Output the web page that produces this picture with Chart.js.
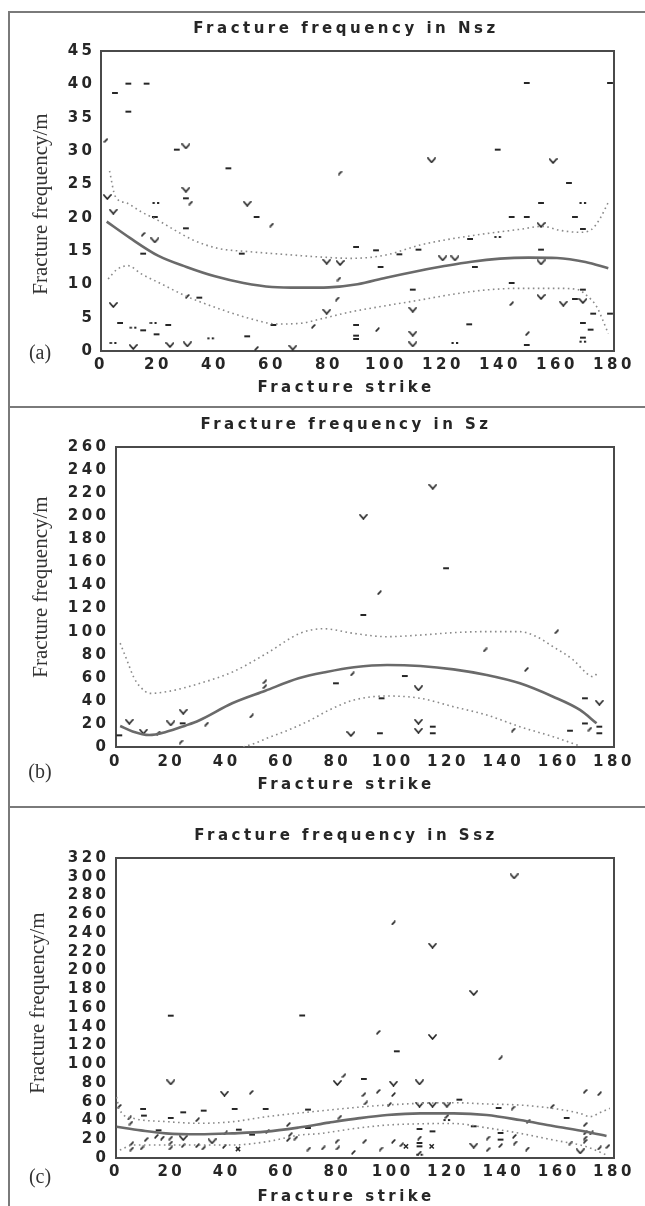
<!DOCTYPE html>
<html>
<head>
<meta charset="utf-8">
<script src="https://cdn.jsdelivr.net/npm/chart.js@4.4.1/dist/chart.umd.min.js"></script>
<style>
  body { margin: 0; background: #fff; }
  #wrap { position: relative; width: 645px; height: 1206px; overflow: hidden; background: #fff; }
  .rule { position: absolute; background: #7a7a7a; }
  canvas { position: absolute; left: 0; }
  .ylab { position: absolute; font-family: "Liberation Serif", "Times New Roman", serif; font-size: 21px; color: #333;
          white-space: nowrap; transform: translate(-50%, -50%) rotate(-90deg); line-height: 1; }
  .tag { position: absolute; font-family: "Liberation Serif", "Times New Roman", serif; font-size: 20px; color: #333;
         transform: translate(-50%, -50%); line-height: 1; }
</style>
</head>
<body>
<div id="wrap">
  <div class="rule" style="left:8px;top:11px;width:637px;height:2px"></div>
  <div class="rule" style="left:8px;top:11px;width:2px;height:1195px"></div>
  <div class="rule" style="left:8px;top:406px;width:637px;height:2px"></div>
  <div class="rule" style="left:8px;top:806px;width:637px;height:2px"></div>

  <canvas id="ca" width="692" height="396" style="top:12px"></canvas>
  <canvas id="cb" width="692" height="399" style="top:408px"></canvas>
  <canvas id="cc" width="692" height="399" style="top:807px"></canvas>

  <div class="ylab" style="left:40px;top:204px">Fracture frequency/m</div>
  <div class="ylab" style="left:40px;top:587px">Fracture frequency/m</div>
  <div class="ylab" style="left:37px;top:1003px">Fracture frequency/m</div>
  <div class="tag" style="left:40px;top:352px">(a)</div>
  <div class="tag" style="left:40px;top:771px">(b)</div>
  <div class="tag" style="left:40px;top:1176px">(c)</div>
</div>
<script>
// ---------- tick labels ----------
const strikeTicks = [0, 20, 40, 60, 80, 100, 120, 140, 160, 180];
const nszTicks = [0, 5, 10, 15, 20, 25, 30, 35, 40, 45];
const szTicks = [0, 20, 40, 60, 80, 100, 120, 140, 160, 180, 200, 220, 240, 260];
const sszTicks = [0, 20, 40, 60, 80, 100, 120, 140, 160, 180, 200, 220, 240, 260, 280, 300, 320];

// ---------- (a) Nsz ----------
const nszFit = [[2,19.4],[10,17.0],[20,14.3],[30,12.6],[40,11.2],[50,10.2],[60,9.6],[70,9.5],[80,9.55],[90,10.0],[100,11.0],[110,11.9],[120,12.7],[130,13.4],[140,13.85],[150,14.0],[160,13.95],[170,13.35],[178,12.4]];
const nszUpper = [[3,27],[5,23.2],[9,22.2],[14,20.9],[20,19.6],[26,18.1],[32,16.7],[41,15.4],[52,14.9],[64,14.5],[77,14.1],[88,13.9],[100,14.4],[112,15.9],[124,16.9],[135,17.6],[147,18.25],[155,18.7],[161,18.1],[168,17.8],[172,18.2],[175,19.8],[178,22.3]];
const nszLower = [[2.5,10.8],[5.5,12.2],[9.5,12.8],[14,11.6],[21,10.1],[30,8.2],[41,6.4],[52,4.9],[62,4.05],[70,4.15],[77,4.8],[88,5.9],[100,6.8],[112,7.65],[124,8.55],[135,9.15],[147,9.4],[159,9.4],[167,9.25],[170.5,8.3],[174,6.6],[176,4.7],[178,2.6]];
const nszDashes = [[4.9,38.7],[9.6,40.1],[16.0,40.1],[9.6,35.9],[6.7,4.2],[14.8,3.1],[19.5,2.5],[23.6,3.9],[14.8,14.6],[18.9,20.1],[26.6,30.2],[29.8,22.9],[29.8,18.4],[34.5,8.0],[44.7,27.4],[49.4,14.6],[51.3,2.2],[54.6,20.1],[60.5,3.9],[149.4,40.2],[178.6,40.2],[139.2,30.2],[164.2,25.2],[154.4,22.2],[144.1,20.1],[149.4,20.1],[166.3,20.1],[169.1,18.3],[129.5,16.8],[89.5,15.6],[96.5,15.1],[104.7,14.5],[111.4,15.2],[98.1,12.6],[131.2,12.6],[154.4,15.2],[144.1,10.2],[169.1,9.2],[109.4,9.2],[166.3,7.8],[172.7,5.6],[89.5,3.9],[129.2,4.0],[169.1,4.2],[171.8,3.2],[89.5,2.3],[89.5,1.8],[149.4,0.9],[169.1,2.0],[178.6,5.6]];
const nszVees = [[2.2,23.1],[4.3,20.9],[4.3,6.9],[11.3,0.6],[18.9,16.6],[24.2,0.9],[29.8,30.7],[29.8,24.2],[30.3,1.0],[51.3,22.1],[67.3,0.5],[116.0,28.6],[154.4,18.9],[79.2,13.4],[83.9,13.2],[119.9,13.9],[124.2,13.9],[154.4,13.3],[154.4,8.1],[162.2,7.1],[169.1,7.5],[79.2,5.9],[109.4,6.2],[109.4,2.6],[109.4,1.0],[158.6,28.5]];
const nszSpecks = [[1.75,31.6],[14.8,17.5],[31.5,22.2],[30.3,8.2],[59.9,18.9],[74.5,3.7],[83.9,26.7],[83.5,10.8],[82.9,7.8],[144.1,7.1],[97.0,3.2],[149.6,2.6],[54.6,0.4]];
const nszPairs = [[4.3,1.2],[11.3,3.5],[18.4,4.2],[19.3,22.2],[38.5,1.9],[169.1,22.2],[139.2,17.1],[124.2,1.2],[169.1,1.4]];

// ---------- (b) Sz ----------
const szFit = [[1.5,18.2],[6,13.5],[12,10.4],[18,13.0],[25,18.5],[30,23],[42,37.9],[54,48.8],[66,59.5],[76,65],[86,69.1],[98,71.1],[110,70.2],[122,67.3],[134,62.4],[146,55.2],[158,43.6],[167.7,32.1],[173.7,20.5]];
const szUpper = [[1.5,90],[4,75],[6.3,61],[8.7,52.3],[12.3,46.5],[18.3,47.9],[30.4,55.2],[42.4,65.3],[54.5,81.2],[66.5,98.5],[74.9,102.5],[85.8,98.5],[97.8,95.6],[109.9,97],[121.9,99.1],[134,100],[146,100],[152,95.6],[158,86.9],[165.3,75.4],[170.1,63.9],[172.5,60.9],[174,64]];
const szLower = [[46,0],[50,3],[55,8],[62,14.4],[70,23],[77,32],[86,40.7],[98,44.2],[110,42.2],[122,34.9],[134,27.7],[146,17.6],[158,8.9],[164,4],[168,0.5]];
const szDashes = [[1.2,10.1],[24.1,20.5],[79.5,55.2],[89.4,114.4],[96,42.2],[95.4,11.9],[104.4,61.5],[114.5,17.6],[114.5,11.9],[119.3,154.9],[164.1,14.1],[169.5,42.2],[169.5,20.4],[174.7,17.6],[174.7,11.9]];
const szVees = [[9.9,13.3],[19.8,20.5],[24.3,30.6],[89.4,199.6],[109.3,50.9],[109.3,21.9],[109.3,14.1],[114.5,225.6],[174.7,38.4],[84.9,11.3],[4.8,21.9]];
const szSpecks = [[15.3,12.1],[23.5,4.3],[32.8,19.9],[49,26.9],[53.8,56.6],[53.8,52.3],[85.4,63.3],[95.2,133.7],[133.4,84.1],[143.6,14.7],[148.4,67.3],[159.3,99.9],[171.3,15.5]];

// ---------- (c) Ssz ----------
const sszFit = [[0.2,33.4],[9,29.5],[18,26.3],[30,25.3],[42,26.3],[54,28.1],[66,32.5],[77,37.7],[88,42.5],[98,45.9],[110,47.6],[122,47.6],[134,45.9],[146,40.5],[158,34.1],[170,28.1],[177.3,23.5]];
const sszUpper = [[0.2,65],[1.4,51],[6.3,42.3],[18.3,38.8],[30.4,37],[42.4,38.8],[54.5,44.1],[73,50],[97.8,56.5],[121.9,59],[134,57.6],[146,56.5],[158,52.9],[167.7,47.6],[171.3,44.1],[175,48.5],[178.5,53]];
const sszLower = [[1.4,8.5],[6.3,13.9],[18.3,13.9],[30,13.9],[42.4,13.9],[54.5,17.4],[66.5,24.5],[73.7,26],[85,31],[97.8,35.1],[110,36.5],[121.9,36.8],[134,32.2],[146,26.3],[158,19.2],[170,12.1],[177.3,3.2]];
const sszDashes = [[19.8,151.8],[67.3,152],[89.6,84.3],[101.5,113.8],[9.8,52.3],[24.3,48.7],[31.7,50.5],[42.9,52.3],[54.1,52.3],[69.4,51.6],[124.1,62.2],[138.3,53.3],[162.9,42.7],[109.7,30.9],[19.8,42.7],[69.4,32],[10.1,45.2],[139,26.7],[114.4,28.4],[44.4,30.2],[49.2,24.9],[15.4,29.5],[109.7,16],[109.7,12.4],[139,19.6],[129.3,33.8]];
const sszVees = [[19.8,80.7],[39.2,68.6],[109.7,80.7],[114.4,129.1],[129.3,176],[109.7,56.9],[114.4,56.9],[119.6,56.9],[24.3,21.3],[34.7,17.8],[129.3,13.2],[167.8,7.1],[80,80],[100.3,79.3],[143.9,300.4],[114.4,226.5]];
const sszSpecks = [[100.3,250.7],[94.8,134],[139,106.7],[82.4,87.8],[48.9,70],[89.6,67.6],[94.8,71.1],[100.3,67.6],[169.6,71.1],[174.8,68.6],[1.2,55.1],[4.9,42.7],[5.4,37.3],[90.3,58.7],[98.8,56.9],[143.5,53.3],[157.7,55.1],[80.9,43.6],[119.6,44.4],[149,39.1],[169.6,35.6],[62.3,35.6],[63,24.9],[65,21.3],[54.8,28.4],[39.6,26.7],[14.6,23.1],[16.8,21.3],[10.9,19.6],[5.7,15.3],[5.7,9.6],[9.4,10.7],[19.8,21.3],[19.8,16],[19.8,10.7],[24.3,13.2],[29.5,40.9],[29.5,13.2],[31.7,10.7],[39.2,12.4],[62.3,19.6],[69.7,9.6],[74.9,10.7],[79.9,17.8],[80.2,10.7],[85.8,6],[89.9,17.8],[95.8,9.6],[100.3,17.8],[103.3,14.2],[109.7,21.3],[109.7,5.3],[134.5,21.3],[134.5,8.9],[139,13.2],[144,23.1],[144.3,16],[148.7,9.6],[164.4,16],[169.6,26.7],[169.6,21.3],[169.6,17.8],[171.8,26.7],[174.8,10.7],[177.8,12.4]];
const sszCrosses = [[44.1,9.6],[104.8,12.4],[114.1,12.4]];
const sszPairs = [[109.7,3.5],[119.6,40.5]];

// ---------- styling ----------
const FRAME = '#4a4a4a';
const INK = '#262626';
const TEXT_FONT = { family: '"DejaVu Sans", Verdana, sans-serif', size: 15, weight: 'bold', lineHeight: 1.2 };
const SPACING = '3.5px';

function glyph(w, h, draw) {
  const c = document.createElement('canvas');
  c.width = w; c.height = h;
  const g = c.getContext('2d');
  g.strokeStyle = INK; g.fillStyle = INK; g.lineWidth = 1.7; g.lineCap = 'round';
  draw(g);
  return c;
}
const veeImg = glyph(9, 6, g => { g.beginPath(); g.moveTo(1, 1); g.lineTo(4.5, 5); g.lineTo(8, 1); g.stroke(); });
const speckImg = glyph(5, 5, g => { g.beginPath(); g.moveTo(1.2, 3.8); g.lineTo(3.8, 1.2); g.stroke(); });
const pairImg = glyph(8, 4, g => { g.fillRect(0.5, 1, 2.2, 2); g.fillRect(5, 1, 2.2, 2); });

const spacingPlugin = {
  id: 'spacing',
  beforeUpdate(c) { c.ctx.letterSpacing = SPACING; },
  beforeLayout(c) { c.ctx.letterSpacing = SPACING; },
  beforeDraw(c) { c.ctx.letterSpacing = SPACING; }
};

function tickList(arr) { return s => { s.ticks = arr.map(v => ({ value: v })); }; }

// plot right edge is at x = 614 in every panel; the canvas is 692 wide so the
// full-width titles centre at x = 346 like the original figure.
const PLOT_RIGHT = 614;

function makeChart(id, p) {
  const canvas = document.getElementById(id);
  const curve = (data, dotted) => ({
    data, showLine: true, pointRadius: 0, pointHoverRadius: 0, xAxisID: 'x', yAxisID: 'y',
    borderColor: dotted ? '#8a8a8a' : '#6a6a6a', borderWidth: dotted ? 1.6 : 2.6,
    borderDash: dotted ? [1.6, 3.4] : [], cubicInterpolationMode: 'monotone', fill: false
  });
  const marks = (data, style, r, extra) => Object.assign({
    data, pointStyle: style, pointRadius: r, pointHoverRadius: r, xAxisID: 'x', yAxisID: 'y',
    borderColor: INK, backgroundColor: INK, borderWidth: 2, showLine: false
  }, extra || {});
  const datasets = [
    curve(p.upper, true), curve(p.lower, true), curve(p.fit, false),
    marks(p.dashes, 'line', 2.9),
    marks(p.vees, veeImg, 3),
    marks(p.specks, speckImg, 2)
  ];
  if (p.pairs) datasets.push(marks(p.pairs, pairImg, 3));
  if (p.crosses) datasets.push(marks(p.crosses, 'crossRot', 3, { borderWidth: 1.5 }));

  const border = { display: true, width: 2, color: FRAME };
  const rightW = canvas.width - PLOT_RIGHT;
  new Chart(canvas, {
    type: 'scatter',
    data: { datasets },
    plugins: [spacingPlugin],
    options: {
      responsive: false, animation: false, events: [],
      layout: { padding: 0 },
      plugins: {
        legend: { display: false }, tooltip: { enabled: false },
        title: { display: true, text: p.title, color: INK, font: TEXT_FONT, fullSize: true,
                 padding: { top: p.tTop, bottom: p.tBottom } },
        subtitle: { display: true, text: 'Fracture strike', position: 'bottom', color: INK, font: TEXT_FONT,
                    fullSize: true, padding: { top: 0, bottom: p.sBottom } }
      },
      scales: {
        x: { type: 'linear', position: 'bottom', min: 0, max: 180,
             afterBuildTicks: tickList(strikeTicks), afterFit: s => { s.height = p.xH; },
             grid: { display: false, drawTicks: false }, border,
             ticks: { autoSkip: false, maxRotation: 0, minRotation: 0, padding: p.xPad, font: TEXT_FONT, color: INK } },
        y: { type: 'linear', position: 'left', min: 0, max: p.ymax,
             afterBuildTicks: tickList(p.yTicks), afterFit: s => { s.width = p.left; },
             grid: { display: false, drawTicks: false }, border,
             ticks: { autoSkip: false, padding: p.yPad, font: TEXT_FONT, color: INK } },
        x2: { type: 'linear', position: 'top', min: 0, max: 180, afterFit: s => { s.height = 0; },
              grid: { display: false, drawTicks: false }, border, ticks: { display: false } },
        y2: { type: 'linear', position: 'right', min: 0, max: p.ymax, afterFit: s => { s.width = rightW; },
              grid: { display: false, drawTicks: false }, border, ticks: { display: false } }
      }
    }
  });
}

makeChart('ca', { title: 'Fracture frequency in Nsz', ymax: 45, yTicks: nszTicks,
  left: 101, xH: 28, tTop: 8, tBottom: 13, sBottom: 11, yPad: 5.5, xPad: 5,
  fit: nszFit, upper: nszUpper, lower: nszLower, dashes: nszDashes, vees: nszVees, specks: nszSpecks, pairs: nszPairs });

makeChart('cb', { title: 'Fracture frequency in Sz', ymax: 260, yTicks: szTicks,
  left: 116, xH: 29, tTop: 8, tBottom: 13, sBottom: 13, yPad: 6.5, xPad: 6,
  fit: szFit, upper: szUpper, lower: szLower, dashes: szDashes, vees: szVees, specks: szSpecks });

makeChart('cc', { title: 'Fracture frequency in Ssz', ymax: 320, yTicks: sszTicks,
  left: 116, xH: 30, tTop: 20, tBottom: 13, sBottom: 0, yPad: 6.5, xPad: 5,
  fit: sszFit, upper: sszUpper, lower: sszLower, dashes: sszDashes, vees: sszVees, specks: sszSpecks,
  pairs: sszPairs, crosses: sszCrosses });
</script>
</body>
</html>
